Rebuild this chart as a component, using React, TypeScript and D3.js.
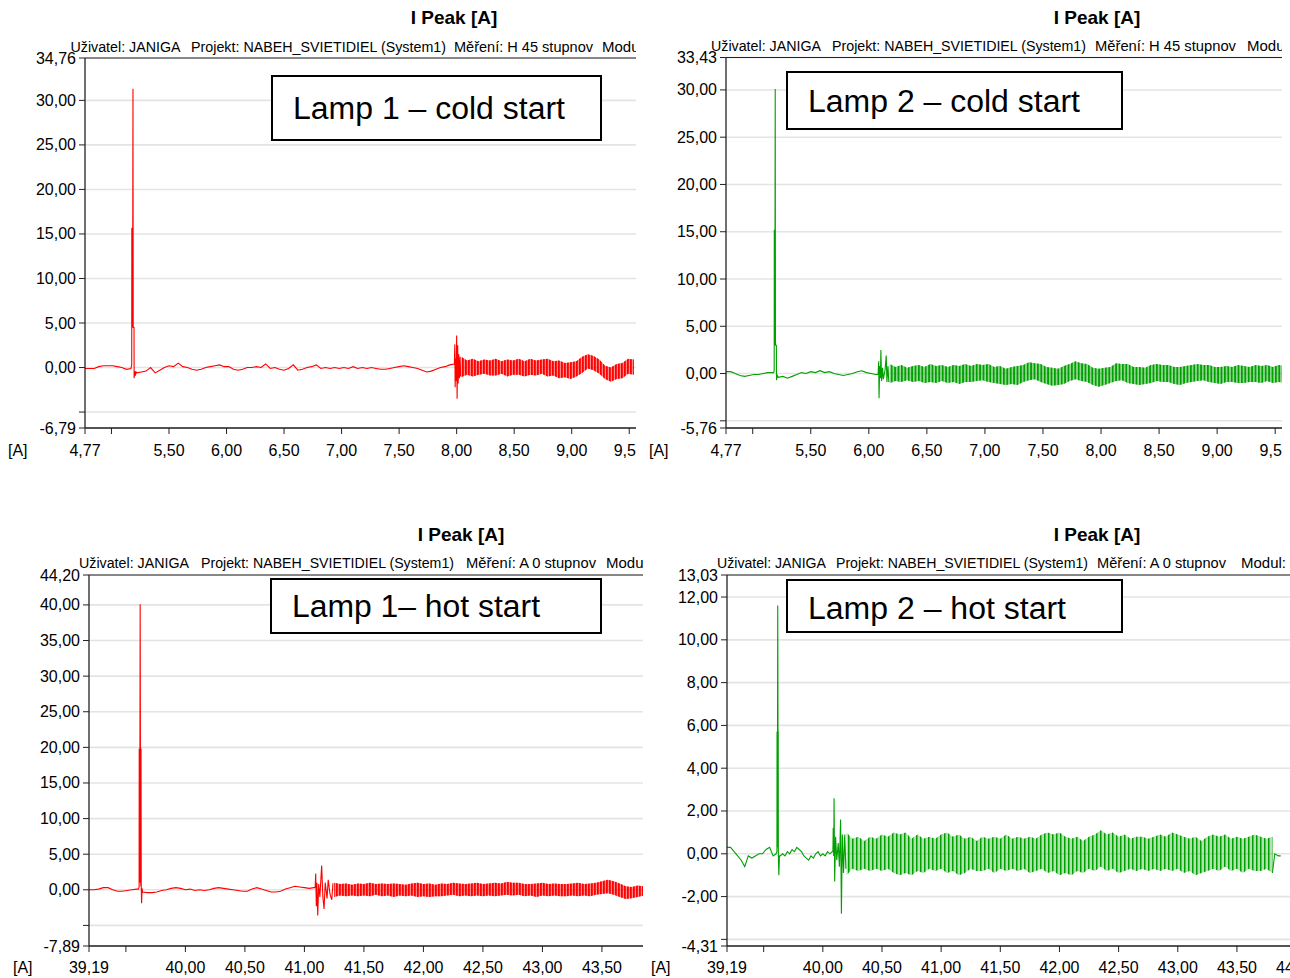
import React from "react";
import * as d3 from "d3";

const FONT = "'Liberation Sans', Arial, sans-serif";
const RED = "#ff0000";
const GREEN = "#00a000";

// ---------------- shared tick labels ----------------
const coldXTicks = [4.77, 5.0, 5.5, 6.0, 6.5, 7.0, 7.5, 8.0, 8.5, 9.0, 9.5];
const coldXLabels = ["4,77", "", "5,50", "6,00", "6,50", "7,00", "7,50", "8,00", "8,50", "9,00", "9,50"];
const hotXTicks = [39.19, 39.5, 40.0, 40.5, 41.0, 41.5, 42.0, 42.5, 43.0, 43.5, 44.0];
const hotXLabels = ["39,19", "", "40,00", "40,50", "41,00", "41,50", "42,00", "42,50", "43,00", "43,50", "44,00"];
const hotXLabelsLeft = ["39,19", "", "40,00", "40,50", "41,00", "41,50", "42,00", "42,50", "43,00", "43,50", ""];

const subCold = ["Uživatel: JANIGA", "Projekt: NABEH_SVIETIDIEL (System1)", "Měření: H 45 stupnov", "Modul:"];
const subHot = ["Uživatel: JANIGA", "Projekt: NABEH_SVIETIDIEL (System1)", "Měření: A 0 stupnov", "Modul:"];

// ---------------- Panel 1: Lamp 1 – cold start ----------------
const p1YTicks = [34.76, 30, 25, 20, 15, 10, 5, 0, -5, -6.79];
const p1YLabels = ["34,76", "30,00", "25,00", "20,00", "15,00", "10,00", "5,00", "0,00", "", "-6,79"];
const p1QuietA = [-0.1, -0.1, -0.1, 0.1, 0.2, 0.2, 0.2, 0.1, 0.0, -0.2, -0.1]; // from 4.77, every 0.04
const p1Spike = [
  [5.172, 0.1], [5.176, 0.3], [5.177, 15.7], [5.178, 4.5], [5.179, 15.7], [5.180, 4.5], [5.181, 15.7],
  [5.182, 4.5], [5.183, 15.7], [5.184, 4.5], [5.185, 15.7], [5.187, 31.3], [5.189, 4.5], [5.196, 4.5],
  [5.197, -1.2], [5.203, -0.4], [5.208, -0.9], [5.214, -0.5],
];
const p1QuietB = [ // from 5.22, every 0.04
  -0.6, -0.5, -0.4, 0.0, -0.6, -0.3, 0.0, 0.2, 0.1, 0.5,
  0.1, 0.0, -0.2, -0.3, -0.2, 0.0, 0.1, 0.2, 0.3, 0.1,
  0.1, -0.2, -0.3, -0.2, 0.0, 0.0, 0.1, 0.0, 0.4, -0.1,
  0.0, -0.2, -0.3, -0.1, 0.3, -0.3, -0.2, 0.0, 0.1, 0.3,
  -0.1, 0.0, -0.1, 0.0, -0.1, 0.0, -0.1, 0.1, -0.1, 0.0,
  -0.1, 0.0, -0.1, -0.2, -0.2, -0.1, 0.0, 0.1, 0.2, 0.1,
  0.0, -0.1, -0.3, -0.5, -0.4, -0.2, 0.0, 0.1, 0.3, 0.4,
];
const p1Burst = [
  [7.984, 2.6], [7.987, -2.2], [7.992, 1.0], [7.996, -1.5], [8.0, 3.6], [8.004, -3.5],
  [8.009, 2.5], [8.013, -1.8], [8.018, 1.5], [8.024, -1.2], [8.03, 1.2], [8.035, -1.0],
];
const p1OscHi = [ // from 8.04, every 0.05
  1.2, 0.8, 1.0, 0.7, 0.9, 0.8, 1.0, 0.7, 0.9, 0.8,
  1.0, 0.7, 1.0, 0.8, 0.9, 1.0, 0.7, 0.8, 0.5, 0.6,
  0.7, 1.2, 1.5, 1.3, 0.9, 0.2, 0.0, 0.4, 0.5, 1.0, 0.9,
];
const p1OscLo = [
  -1.1, -0.8, -1.0, -0.8, -0.7, -0.9, -0.9, -0.7, -1.0, -0.8,
  -0.8, -1.0, -0.8, -0.9, -0.7, -1.0, -0.9, -1.2, -1.1, -1.3,
  -1.0, -0.6, -0.1, -0.3, -0.7, -1.3, -1.6, -1.3, -1.2, -0.7, -0.8,
];

// ---------------- Panel 2: Lamp 2 – cold start ----------------
const p2YTicks = [33.43, 30, 25, 20, 15, 10, 5, 0, -5, -5.76];
const p2YLabels = ["33,43", "30,00", "25,00", "20,00", "15,00", "10,00", "5,00", "0,00", "", "-5,76"];
const p2QuietA = [0.2, 0.2, 0.0, -0.2, -0.3, -0.2, -0.1, -0.1, 0.0, 0.1, 0.1]; // from 4.77, every 0.04
const p2Spike = [
  [5.18, 0.1], [5.185, 0.3], [5.186, 15.2], [5.187, 3.0], [5.188, 15.2], [5.189, 3.0], [5.19, 15.2],
  [5.191, 3.0], [5.192, 15.2], [5.194, 30.1], [5.196, 3.0], [5.204, 3.0], [5.205, -0.7], [5.212, -0.2],
];
const p2QuietB = [ // from 5.22, every 0.04
  -0.4, -0.3, -0.5, -0.3, -0.1, 0.1, 0.0, 0.2, 0.1, 0.3,
  0.1, 0.2, 0.0, -0.1, -0.2, -0.1, 0.0, 0.2, 0.3, 0.1,
  0.0, -0.1,
];
const p2Burst = [
  [6.08, -0.1], [6.085, 1.3], [6.088, -2.6], [6.094, 0.8], [6.1, -0.5], [6.104, 2.5], [6.11, -0.8],
  [6.118, 0.6], [6.125, -0.6], [6.14, 0.4], [6.15, 1.9], [6.156, -0.9], [6.165, 0.8], [6.172, -0.9],
];
const p2OscHi = [ // from 6.18, every 0.05
  1.0, 0.7, 0.9, 0.6, 0.8, 0.9, 0.7, 1.0, 0.8, 0.9,
  0.7, 0.9, 0.8, 1.0, 0.8, 1.0, 0.9, 1.0, 0.7, 0.8,
  0.5, 0.7, 0.8, 0.9, 1.2, 1.1, 1.0, 0.7, 0.6, 0.5,
  0.8, 1.0, 1.3, 1.1, 1.0, 0.6, 0.5, 0.6, 0.7, 1.1,
  1.0, 1.0, 0.7, 0.7, 0.6, 0.9, 1.0, 0.9, 0.9, 0.7,
  0.7, 0.8, 0.9, 1.0, 0.9, 0.9, 0.7, 0.7, 0.8, 0.7,
  0.9, 0.8, 0.7, 0.9, 0.8, 0.9, 0.7, 0.9, 0.8,
];
const p2OscLo = [
  -1.0, -0.8, -0.9, -0.7, -0.9, -0.8, -1.0, -0.9, -1.0, -0.8,
  -1.0, -0.9, -1.1, -0.9, -0.9, -0.8, -0.7, -0.9, -1.0, -1.1,
  -1.2, -1.1, -1.2, -0.9, -0.7, -0.6, -0.9, -1.1, -1.3, -1.2,
  -1.1, -0.8, -0.6, -0.8, -0.9, -1.2, -1.4, -1.2, -1.0, -0.8,
  -0.7, -1.0, -1.1, -1.2, -1.1, -1.0, -0.8, -0.9, -0.9, -1.1,
  -1.2, -1.0, -0.9, -0.8, -0.7, -0.9, -1.0, -1.1, -0.9, -0.9,
  -1.0, -1.0, -0.9, -0.9, -1.0, -0.8, -1.0, -0.9, -1.0,
];

// ---------------- Panel 3: Lamp 1 – hot start ----------------
const p3YTicks = [44.2, 40, 35, 30, 25, 20, 15, 10, 5, 0, -5, -7.89];
const p3YLabels = ["44,20", "40,00", "35,00", "30,00", "25,00", "20,00", "15,00", "10,00", "5,00", "0,00", "", "-7,89"];
const p3QuietA = [0.0, 0.0, 0.1, 0.3, 0.3, 0.0, -0.2, -0.2, -0.1, 0.0, 0.1]; // from 39.19, every 0.04
const p3Spike = [
  [39.606, 0.1], [39.611, 0.4], [39.612, 19.8], [39.613, 1.0], [39.614, 19.8], [39.615, 1.0], [39.616, 19.8],
  [39.617, 1.0], [39.618, 19.8], [39.62, 40.1], [39.622, 19.8], [39.624, 19.8], [39.625, 0.5], [39.627, 19.8],
  [39.629, 0.5], [39.632, -1.9], [39.636, 0.2],
];
const p3QuietB = [ // from 39.64, every 0.04
  -0.3, -0.4, -0.4, -0.3, -0.1, 0.0, 0.2, 0.3, 0.2, 0.0,
  0.1, -0.1, 0.0, -0.1, 0.0, 0.2, 0.3, 0.2, 0.1, 0.0,
  -0.1, -0.2, -0.2, 0.1, 0.3, 0.1, -0.1, -0.3, -0.3, -0.2,
  0.1, 0.3, 0.5, 0.4, 0.3, 0.2, 0.3,
];
const p3Burst = [
  [41.09, 0.3], [41.095, 2.3], [41.1, -2.3], [41.105, 1.0], [41.112, -3.6], [41.12, 0.8], [41.13, -1.0],
  [41.145, 3.4], [41.155, -1.0], [41.165, -2.7], [41.175, 1.0], [41.19, -1.2], [41.2, 1.4], [41.215, -0.6],
  [41.23, -1.4], [41.24, 0.9],
];
const p3OscHi = [ // from 41.25, every 0.05
  1.0, 0.8, 0.9, 0.7, 0.9, 0.8, 1.0, 0.8, 0.9, 0.8,
  0.9, 0.8, 0.7, 0.9, 1.0, 0.8, 0.9, 0.7, 0.9, 0.8,
  1.0, 0.9, 0.8, 0.9, 1.0, 0.8, 0.9, 1.0, 0.9, 1.1,
  1.0, 1.0, 0.8, 0.8, 0.9, 1.0, 0.8, 0.9, 0.8, 0.8,
  0.9, 1.0, 0.8, 0.9, 1.0, 1.2, 1.4, 1.2, 0.9, 0.5,
  0.4, 0.6, 0.5,
];
const p3OscLo = [
  -1.0, -0.8, -0.9, -0.8, -0.9, -0.8, -0.9, -0.7, -0.9, -0.8,
  -1.0, -0.8, -0.9, -0.8, -1.0, -0.9, -1.0, -0.9, -0.9, -0.8,
  -0.7, -0.9, -0.8, -0.9, -0.8, -0.9, -0.8, -0.9, -0.8, -0.7,
  -0.8, -0.7, -0.9, -0.8, -1.0, -0.8, -0.9, -0.8, -0.9, -0.9,
  -0.8, -0.9, -0.8, -0.9, -0.7, -0.6, -0.5, -0.7, -1.0, -1.3,
  -1.2, -1.0, -0.8,
];

// ---------------- Panel 4: Lamp 2 – hot start ----------------
const p4YTicks = [13.03, 12, 10, 8, 6, 4, 2, 0, -2, -4, -4.31];
const p4YLabels = ["13,03", "12,00", "10,00", "8,00", "6,00", "4,00", "2,00", "0,00", "-2,00", "", "-4,31"];
const p4QuietA = [0.3, 0.3, 0.1, -0.1, -0.3, -0.6, -0.1, -0.2, -0.1, 0.0, 0.0, 0.2, 0.3, -0.1]; // from 39.19, every 0.03
const p4Spike = [
  [39.605, 0.0], [39.612, 0.1], [39.613, 5.7], [39.614, 0.3], [39.615, 5.7], [39.616, 0.3], [39.617, 5.7],
  [39.619, 11.6], [39.621, 5.7], [39.623, 5.7], [39.624, 0.0], [39.628, -1.0], [39.633, -0.1],
];
const p4QuietB = [ // from 39.64, every 0.02
  -0.1, 0.0, -0.1, 0.1, 0.0, 0.2, 0.1, 0.3, 0.2, 0.1,
  -0.1, -0.2, -0.3, -0.1, -0.2, 0.0, 0.1, -0.1, 0.0, -0.1,
  0.1, 0.0, 0.1,
];
const p4Burst = [
  [40.085, 0.1], [40.088, 1.2], [40.092, -0.1], [40.095, 2.6], [40.1, -1.3], [40.108, 0.8], [40.118, -0.3],
  [40.13, 0.5], [40.14, -0.6], [40.15, 1.6], [40.157, -2.8], [40.165, 0.9], [40.175, -0.9], [40.185, 0.9],
  [40.195, -0.7],
];
const p4OscHi = [ // from 40.20, every 0.05
  1.0, 0.7, 0.8, 0.6, 0.8, 0.7, 0.9, 0.8, 1.0, 0.9,
  1.0, 0.7, 0.9, 0.7, 0.8, 0.7, 0.9, 1.0, 0.8, 0.9,
  0.7, 0.8, 0.6, 0.8, 0.7, 0.8, 0.7, 0.9, 0.7, 0.8,
  0.7, 0.8, 0.7, 0.9, 1.0, 0.9, 1.0, 0.8, 0.7, 0.8,
  0.6, 0.8, 0.9, 1.1, 0.9, 1.0, 0.8, 0.9, 0.7, 0.8,
  0.8, 0.7, 0.8, 0.9, 0.8, 1.0, 0.9, 0.8, 0.7, 0.8,
  0.6, 0.8, 0.9, 0.8, 0.9, 0.7, 0.8, 0.7, 0.8, 0.9,
  0.8, 0.7, 0.8,
];
const p4OscLo = [
  -1.0, -0.7, -0.8, -0.7, -0.8, -0.7, -0.8, -0.7, -0.9, -1.0,
  -0.9, -1.0, -0.8, -0.9, -0.7, -0.8, -0.7, -0.9, -0.8, -1.0,
  -0.9, -0.7, -0.8, -0.8, -0.7, -0.9, -0.7, -0.8, -0.7, -0.8,
  -0.7, -0.9, -0.8, -0.7, -0.9, -0.8, -1.0, -0.9, -1.0, -0.8,
  -0.9, -0.7, -0.8, -0.6, -0.8, -0.7, -0.9, -0.8, -0.7, -0.8,
  -0.7, -0.8, -0.7, -0.8, -0.7, -0.8, -0.7, -0.9, -0.8, -1.0,
  -0.9, -0.8, -0.7, -0.8, -0.6, -0.8, -0.7, -0.9, -0.7, -0.8,
  -0.8, -0.7, -0.9,
];
const p4Tail = [[43.82, 0.0], [43.85, -0.1], [43.87, -0.1]];

// ---------------- layout / options built from the arrays ----------------
const panels = [
  {
    id: "p1", color: RED, stripe: 3.0, stripeW: 1.8, baseOpacity: 0.45,
    xDomain: [4.77, 9.55], xRange: [85, 635], yDomain: [-6.79, 34.76], yRange: [428, 58],
    clip: [0, 0, 636, 489], xTicks: coldXTicks, xLabels: coldXLabels, yTicks: p1YTicks, yLabels: p1YLabels,
    titleX: 454, titleY: 24, subY: 52, subTexts: subCold, subPos: [[70.5, 110], [191, 255], [454, 139], [602, 45]],
    box: [272, 76, 329, 64], boxText: "Lamp 1 – cold start", boxTextX: 293, boxTextY: 119, boxTextW: 272,
    xLabelY: 456, unitX: 8,
    quietA: p1QuietA, qaStart: 4.77, qaStep: 0.04, spike: p1Spike, quietB: p1QuietB, qbStart: 5.22, qbStep: 0.04,
    burst: p1Burst, oscHi: p1OscHi, oscLo: p1OscLo, oscStart: 8.04, oscStep: 0.05, tail: [],
  },
  {
    id: "p2", color: GREEN, stripe: 3.4, stripeW: 1.8, baseOpacity: 0.4,
    xDomain: [4.77, 9.55], xRange: [726, 1281], yDomain: [-5.76, 33.43], yRange: [428, 57.5],
    clip: [645, 0, 637, 489], xTicks: coldXTicks, xLabels: coldXLabels, yTicks: p2YTicks, yLabels: p2YLabels,
    titleX: 1097, titleY: 23.5, subY: 50.5, subTexts: subCold, subPos: [[711, 110], [832, 254], [1095, 141], [1247, 45]],
    box: [787, 72, 335, 57], boxText: "Lamp 2 – cold start", boxTextX: 808, boxTextY: 112, boxTextW: 272,
    xLabelY: 456, unitX: 649,
    quietA: p2QuietA, qaStart: 4.77, qaStep: 0.04, spike: p2Spike, quietB: p2QuietB, qbStart: 5.22, qbStep: 0.04,
    burst: p2Burst, oscHi: p2OscHi, oscLo: p2OscLo, oscStart: 6.18, oscStep: 0.05, tail: [],
  },
  {
    id: "p3", color: RED, stripe: 3.0, stripeW: 1.8, baseOpacity: 0.45,
    xDomain: [39.19, 43.84], xRange: [89, 642.4], yDomain: [-7.89, 44.2], yRange: [946, 575],
    clip: [0, 489, 643, 489], xTicks: hotXTicks, xLabels: hotXLabelsLeft, yTicks: p3YTicks, yLabels: p3YLabels,
    titleX: 461, titleY: 541, subY: 568, subTexts: subHot, subPos: [[79, 110], [201, 253], [466, 130], [606, 45]],
    box: [271, 579, 330, 54], boxText: "Lamp 1– hot start", boxTextX: 292, boxTextY: 617, boxTextW: 248,
    xLabelY: 973, unitX: 13,
    quietA: p3QuietA, qaStart: 39.19, qaStep: 0.04, spike: p3Spike, quietB: p3QuietB, qbStart: 39.64, qbStep: 0.04,
    burst: p3Burst, oscHi: p3OscHi, oscLo: p3OscLo, oscStart: 41.25, oscStep: 0.05, tail: [],
  },
  {
    id: "p4", color: GREEN, stripe: 4.0, stripeW: 1.5, baseOpacity: 0.3,
    xDomain: [39.19, 43.87], xRange: [727, 1280.7], yDomain: [-4.31, 13.03], yRange: [946, 575],
    clip: [645, 489, 645, 489], xTicks: hotXTicks, xLabels: hotXLabels, yTicks: p4YTicks, yLabels: p4YLabels,
    titleX: 1097, titleY: 541, subY: 568, subTexts: subHot, subPos: [[717, 109], [836, 252], [1097, 129], [1241, 45]],
    box: [787, 580, 335, 52], boxText: "Lamp 2 – hot start", boxTextX: 808, boxTextY: 619, boxTextW: 258,
    xLabelY: 973, unitX: 651,
    quietA: p4QuietA, qaStart: 39.19, qaStep: 0.03, spike: p4Spike, quietB: p4QuietB, qbStart: 39.64, qbStep: 0.02,
    burst: p4Burst, oscHi: p4OscHi, oscLo: p4OscLo, oscStart: 40.2, oscStep: 0.05, tail: p4Tail,
  },
];

function seq(start: number, step: number, vals: number[]) {
  return vals.map((v, i) => [start + i * step, v] as [number, number]);
}

function PanelView({ p }: { p: any }) {
  const x = d3.scaleLinear().domain(p.xDomain).range(p.xRange);
  const y = d3.scaleLinear().domain(p.yDomain).range(p.yRange);
  const line = d3.line<[number, number]>().x((d) => x(d[0])).y((d) => y(d[1]));
  const trace = [
    ...seq(p.qaStart, p.qaStep, p.quietA),
    ...p.spike,
    ...seq(p.qbStart, p.qbStep, p.quietB),
    ...p.burst,
  ];
  const osc = p.oscHi.map((h: number, i: number) => ({ t: p.oscStart + i * p.oscStep, hi: h, lo: p.oscLo[i] }));
  const area = d3.area<any>().x((d) => x(d.t)).y0((d) => y(d.lo)).y1((d) => y(d.hi));
  const lastOsc = osc[osc.length - 1];
  const tail = p.tail.length ? [[lastOsc.t, lastOsc.lo], ...p.tail] : [];
  const [ax0] = p.xRange;
  const axRight = p.clip[0] + p.clip[2];
  const [yb, yt] = p.yRange;
  const [cx, cy, cw, ch] = p.clip;
  return (
    <g>
      <defs>
        <clipPath id={`clip-${p.id}`}>
          <rect x={cx} y={cy} width={cw} height={ch} />
        </clipPath>
        <clipPath id={`plot-${p.id}`}>
          <rect x={ax0} y={yt} width={axRight - ax0} height={yb - yt} />
        </clipPath>
        <pattern id={`st-${p.id}`} patternUnits="userSpaceOnUse" width={p.stripe} height={6}>
          <rect x={0} y={0} width={p.stripeW} height={6} fill={p.color} />
        </pattern>
      </defs>
      <g clipPath={`url(#clip-${p.id})`}>
        {p.yTicks.map((v: number, i: number) => (
          <line key={`g${i}`} x1={ax0} x2={axRight} y1={y(v)} y2={y(v)} stroke="#e4e4e4" strokeWidth={1.6} />
        ))}
        <text x={p.titleX} y={p.titleY} textAnchor="middle" fontFamily={FONT} fontWeight="bold" fontSize={19} fill="#000">
          I Peak [A]
        </text>
        {p.subTexts.map((s: string, i: number) => (
          <text key={`s${i}`} x={p.subPos[i][0]} y={p.subY} fontFamily={FONT} fontSize={14} fill="#000"
            textLength={p.subPos[i][1]} lengthAdjust="spacingAndGlyphs">{s}</text>
        ))}
        <g clipPath={`url(#plot-${p.id})`}>
          <path d={area(osc) || ""} fill={p.color} fillOpacity={p.baseOpacity} stroke="none" />
          <path d={area(osc) || ""} fill={`url(#st-${p.id})`} stroke="none" />
          <path d={line(trace as any) || ""} fill="none" stroke={p.color} strokeWidth={1.1} strokeLinejoin="miter" />
          {tail.length > 0 && <path d={line(tail as any) || ""} fill="none" stroke={p.color} strokeWidth={1.1} />}
        </g>
        <line x1={ax0} x2={axRight} y1={yt} y2={yt} stroke="#222" strokeWidth={1} />
        <line x1={ax0} x2={ax0} y1={yt} y2={yb} stroke="#222" strokeWidth={1.3} />
        <line x1={ax0} x2={axRight} y1={yb} y2={yb} stroke="#222" strokeWidth={1.3} />
        {p.yTicks.map((v: number, i: number) => (
          <g key={`yt${i}`}>
            <line x1={ax0 - 6} x2={ax0} y1={y(v)} y2={y(v)} stroke="#222" strokeWidth={1} />
            {p.yLabels[i] && (
              <text x={ax0 - 9} y={y(v) + 5.5} textAnchor="end" fontFamily={FONT} fontSize={16} fill="#000">
                {p.yLabels[i]}
              </text>
            )}
          </g>
        ))}
        {p.xTicks.map((v: number, i: number) => (
          <g key={`xt${i}`}>
            <line x1={x(v)} x2={x(v)} y1={yb} y2={yb + 6} stroke="#222" strokeWidth={1} />
            {p.xLabels[i] && (
              <text x={x(v)} y={p.xLabelY} textAnchor="middle" fontFamily={FONT} fontSize={16} fill="#000">
                {p.xLabels[i]}
              </text>
            )}
          </g>
        ))}
        <text x={p.unitX} y={p.xLabelY} fontFamily={FONT} fontSize={16} fill="#000">[A]</text>
        <rect x={p.box[0]} y={p.box[1]} width={p.box[2]} height={p.box[3]} fill="#fff" stroke="#000" strokeWidth={2} />
        <text x={p.boxTextX} y={p.boxTextY} fontFamily={FONT} fontSize={31} fill="#000"
          textLength={p.boxTextW} lengthAdjust="spacingAndGlyphs">{p.boxText}</text>
      </g>
    </g>
  );
}

export default function App() {
  return (
    <svg width={1290} height={978} viewBox="0 0 1290 978"
      style={{ position: "absolute", left: 0, top: 0, background: "#fff", display: "block" }}>
      <rect x={0} y={0} width={1290} height={978} fill="#fff" />
      {panels.map((p) => (
        <PanelView key={p.id} p={p} />
      ))}
    </svg>
  );
}
